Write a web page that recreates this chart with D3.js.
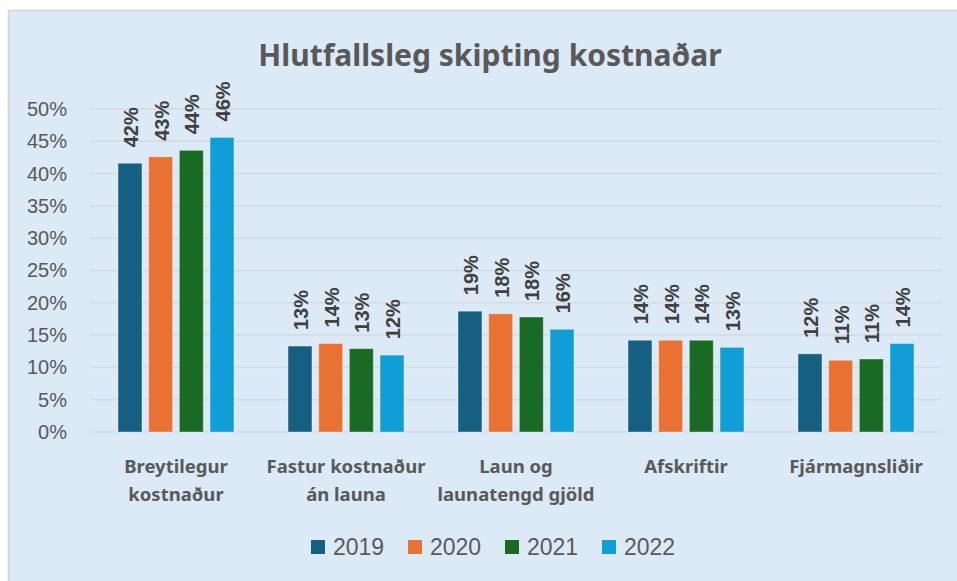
<!DOCTYPE html>
<html>
<head>
<meta charset="utf-8">
<script src="https://cdn.jsdelivr.net/npm/d3@7"></script>
<style>
  body { margin: 0; background: #fff; }
  svg { display: block; }
</style>
</head>
<body>
<svg id="chart" width="957" height="581"></svg>
<script>
// Data
const categories = [
  ["Breytilegur", "kostnaður"],
  ["Fastur kostnaður", "án launa"],
  ["Laun og", "launatengd gjöld"],
  ["Afskriftir"],
  ["Fjármagnsliðir"]
];
const years = ["2019", "2020", "2021", "2022"];
const values2019 = [41.6, 13.3, 18.7, 14.2, 12.1];
const values2020 = [42.6, 13.7, 18.3, 14.2, 11.1];
const values2021 = [43.6, 12.9, 17.8, 14.2, 11.3];
const values2022 = [45.6, 11.9, 15.9, 13.1, 13.7];
const series = [values2019, values2020, values2021, values2022];
const yTicks = [0, 5, 10, 15, 20, 25, 30, 35, 40, 45, 50];
const colors = ["#156082", "#e97132", "#196b24", "#0f9ed5"];

const svg = d3.select("#chart");

// chart area background
svg.append("rect")
  .attr("x", 8.5).attr("y", 10.5)
  .attr("width", 960).attr("height", 580)
  .attr("fill", "#dce9f6")
  .attr("stroke", "#d4d4d4")
  .attr("stroke-width", 1.5);

const margin = { top: 109, left: 91, right: 16, bottom: 149 };
const width = 957 - margin.left - margin.right;
const height = 581 - margin.top - margin.bottom;

const g = svg.append("g").attr("transform", `translate(${margin.left},${margin.top})`);

const x0 = d3.scaleBand()
  .domain(d3.range(categories.length))
  .range([0, width])
  .paddingInner(0.318)
  .paddingOuter(0.159);

const x1 = d3.scaleBand()
  .domain(years)
  .range([0, x0.bandwidth()])
  .paddingInner(0.22);

const y = d3.scaleLinear().domain([0, 50]).range([height, 0]);

// gridlines
g.append("g")
  .selectAll("line")
  .data(yTicks)
  .join("line")
  .attr("x1", 0).attr("x2", width)
  .attr("y1", d => y(d)).attr("y2", d => y(d))
  .attr("stroke", "#d9d9d9")
  .attr("stroke-width", 1.5);

// y axis labels
const yAxis = g.append("g")
  .call(d3.axisLeft(y).tickValues(yTicks).tickFormat(d => d + "%").tickSize(0).tickPadding(24));
yAxis.select(".domain").remove();
yAxis.selectAll("text")
  .attr("fill", "#595959")
  .style("font-family", "Liberation Sans, Arial, sans-serif")
  .style("font-size", "20px");

// bars
const groups = g.selectAll(".cat")
  .data(categories.map((c, i) => i))
  .join("g")
  .attr("class", "cat")
  .attr("transform", i => `translate(${x0(i)},0)`);

groups.selectAll("rect")
  .data(i => years.map((yr, k) => ({ yr, k, v: series[k][i] })))
  .join("rect")
  .attr("x", d => x1(d.yr))
  .attr("y", d => y(d.v))
  .attr("width", x1.bandwidth())
  .attr("height", d => y(0) - y(d.v))
  .attr("fill", d => colors[d.k])
  .attr("stroke", "#ffffff")
  .attr("stroke-opacity", 0.35)
  .attr("stroke-width", 1);

// value labels, rotated
groups.selectAll("text.val")
  .data(i => years.map((yr, k) => ({ yr, k, v: series[k][i] })))
  .join("text")
  .attr("class", "val")
  .attr("transform", d => `translate(${x1(d.yr) + x1.bandwidth() / 2 + 8},${y(d.v) - 16}) rotate(-90)`)
  .attr("text-anchor", "start")
  .attr("fill", "#404040")
  .style("font-family", "Liberation Sans, Arial, sans-serif")
  .style("font-weight", "bold")
  .style("font-size", "20px")
  .text(d => Math.round(d.v) + "%");

// category labels
const catLabels = g.append("g")
  .selectAll("text")
  .data(categories)
  .join("text")
  .attr("x", (c, i) => x0(i) + x0.bandwidth() / 2)
  .attr("y", height + 41)
  .attr("text-anchor", "middle")
  .attr("fill", "#595959")
  .style("font-family", "Noto Sans, Open Sans, sans-serif")
  .style("font-weight", "bold")
  .style("font-size", "18.5px");

catLabels.selectAll("tspan")
  .data(c => c)
  .join("tspan")
  .attr("x", function () { return d3.select(this.parentNode).attr("x"); })
  .attr("dy", (d, j) => j === 0 ? 0 : 28)
  .text(d => d);

// title
svg.append("text")
  .attr("x", 490)
  .attr("y", 66)
  .attr("text-anchor", "middle")
  .attr("fill", "#595959")
  .style("font-family", "Noto Sans, Open Sans, sans-serif")
  .style("font-weight", "bold")
  .style("font-size", "30px")
  .text("Hlutfallsleg skipting kostnaðar");

// legend
const legend = svg.append("g").attr("transform", "translate(311,547)");
const items = legend.selectAll("g")
  .data(years)
  .join("g")
  .attr("transform", (d, i) => `translate(${i * 97},0)`);
items.append("rect")
  .attr("x", 0).attr("y", -7)
  .attr("width", 14).attr("height", 14)
  .attr("fill", (d, i) => colors[i]);
items.append("text")
  .attr("x", 22).attr("y", 8)
  .attr("fill", "#595959")
  .style("font-family", "Liberation Sans, Arial, sans-serif")
  .style("font-size", "23px")
  .text(d => d);
</script>
</body>
</html>
